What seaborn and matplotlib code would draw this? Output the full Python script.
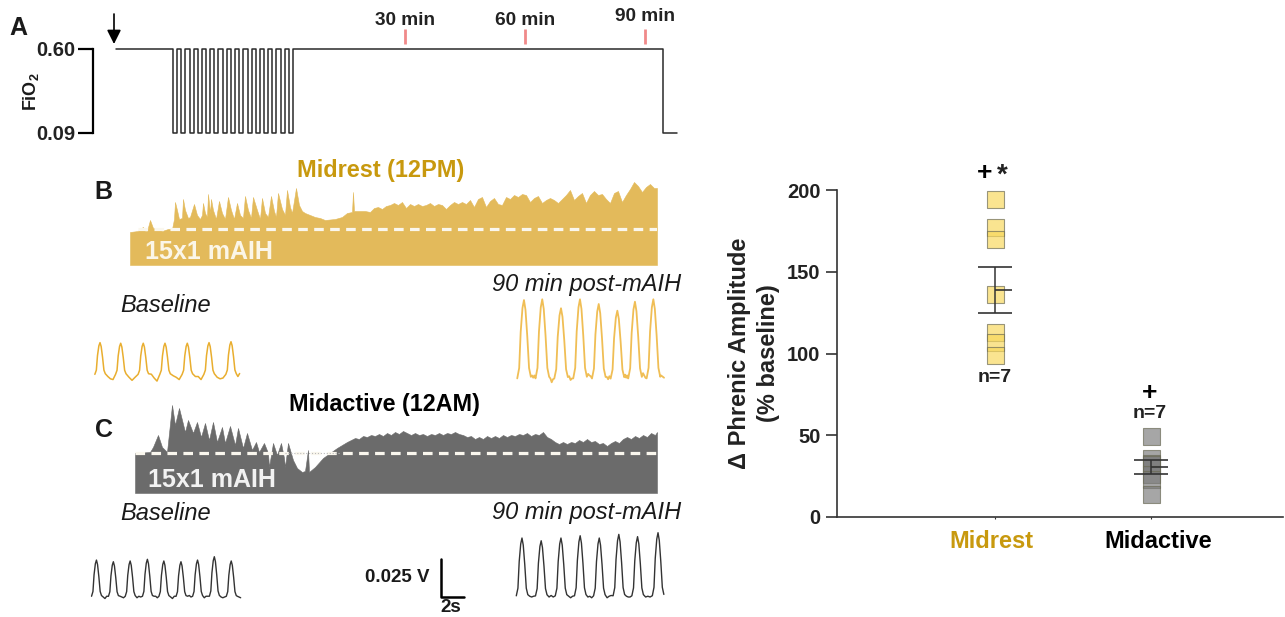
import matplotlib
matplotlib.use("Agg")
import matplotlib.pyplot as plt
from matplotlib.transforms import ScaledTranslation
import seaborn as sns
import pandas as pd

sns.set_theme(style="white")
plt.rcParams["font.family"] = ["Liberation Sans", "DejaVu Sans"]
plt.rcParams["mathtext.fontset"] = "custom"
plt.rcParams["mathtext.bf"] = "Liberation Sans:bold"

W, H = 1285, 617
GOLD = "#C8990E"
ENV_GOLD = "#E3BA5B"
ENV_GRAY = "#6B6B6B"

# --------------------------------------------------
# Data
# --------------------------------------------------

# A: protocol, minutes from the first hypoxic episode
hypoxia_onsets = [0, 2.07, 4.14, 6.21, 8.28, 10.35, 12.42, 14.49, 16.56, 18.63, 20.7, 22.77, 24.84, 26.91, 28.98]
fio2_high = 0.60
fio2_low = 0.09
protocol_start = -14.25
protocol_drop = 122.5
protocol_end = 126
mark_times = [58, 88, 118]
mark_labels = ["30 min", "60 min", "90 min"]

# B: integrated phrenic envelope, Midrest
env_b_x = [0, 8, 10, 13, 15, 17, 20, 23, 28, 32, 38, 42, 44, 45, 47, 49, 52, 53, 55, 58, 60, 64, 67, 70,
           72, 73, 75, 77, 78, 80, 81, 83, 86, 89, 92, 95, 98, 101, 104, 107, 110, 113, 115, 118, 121,
           123, 127, 130, 132, 135, 138, 141, 144, 146, 148, 152, 155, 157, 160, 162, 166, 169, 172,
           175, 180, 185, 190, 195, 205, 212, 217, 222, 223, 224, 235]
env_b_h = [33, 34, 36, 38, 34, 34, 45, 37, 36, 34, 36, 36, 46, 63, 55, 46, 47, 66, 55, 47, 48, 61, 50, 46,
           50, 62, 52, 48, 71, 52, 66, 55, 46, 64, 52, 46, 68, 55, 46, 62, 50, 47, 69, 55, 47,
           68, 55, 46, 67, 52, 48, 69, 54, 48, 72, 56, 50, 75, 58, 52, 77, 60, 54,
           52, 50, 48, 47, 45, 46, 48, 52, 53, 73, 54, 54]
env_b_x_late = list(range(240, 528, 4)) + [527]
env_b_h_late = [53, 57, 58, 56, 59, 60, 62, 60, 63, 57, 61, 59, 61, 59, 60, 62, 59, 61, 60, 56, 60, 63, 61, 63,
                61, 65, 58, 66, 68, 58, 64, 67, 61, 60, 68, 66, 70, 68, 71, 70, 63, 67, 69, 62, 65, 67, 65, 62,
                66, 70, 75, 65, 69, 72, 62, 70, 74, 70, 71, 66, 62, 72, 74, 63, 70, 76, 83, 79, 73, 78, 81, 77,
                77]
baseline_b = 35.5

# C: integrated phrenic envelope, Midactive
env_c_x = [0, 15, 18, 23, 27, 32, 37, 40, 44, 50, 53, 58, 62, 66, 70, 74, 78, 82, 87, 90, 95, 100, 103,
           108, 112, 117, 121, 124, 129, 133, 134, 138, 142, 146, 149, 150, 153, 158, 162, 167, 170,
           173, 174, 180, 188, 195, 202]
env_c_h = [40, 41, 46, 58, 46, 41, 88, 68, 85, 61, 73, 60, 71, 56, 70, 53, 71, 51, 66, 50, 67, 48, 65,
           45, 60, 43, 51, 41, 50, 40, 26, 50, 38, 50, 35, 26, 50, 33, 25, 21, 22,
           43, 21, 26, 35, 40, 45]
env_c_x_late = list(range(212, 524, 4)) + [522]
env_c_h_late = [51, 53, 55, 54, 57, 56, 58, 57, 59, 57, 60, 58, 61, 59, 62, 60, 58, 60, 58, 59, 57, 59, 58, 60,
                58, 60, 59, 61, 59, 58, 56, 57, 54, 56, 54, 57, 55, 57, 55, 58, 56, 58, 57, 59, 58, 60, 57, 59,
                58, 61, 56, 54, 51, 49, 51, 49, 51, 50, 53, 51, 54, 51, 52, 49, 50, 47, 50, 52, 50, 54, 56, 54,
                57, 55, 58, 56, 60, 58, 61]
baseline_c = 40

# Peak times (s) and peak amplitudes (mV) of the raw traces
peak_t_b_base = [0.61, 2.41, 4.37, 6.26, 8.20, 10.09, 12.00]
peak_v_b_base = [21.3, 20.9, 20.9, 20.9, 20.9, 21.3, 21.9]
gaps_b_base = [[-1.0, -2.5, -3.0], [-1.5, -3.5, -1.5], [0.5, -2.0, -4.0], [-0.5, -1.5, -3.0],
               [-1.0, -1.0, -3.0], [-1.5, -2.5, -2.0]]
tail_t_b_base = [12.6, 12.75]
tail_v_b_base = [-1.0, 1.0]
peak_t_b_post = [0.78, 2.37, 4.00, 5.65, 7.28, 8.90, 10.43, 12.03]
peak_v_b_post = [52.6, 53.1, 47.2, 53.1, 50.0, 45.6, 51.5, 53.1]
gaps_b_post = [[3.0, 1.5, 3.0], [1.0, -1.5, 0.5], [2.5, 0.0, 1.0], [4.0, 3.0, 2.5],
               [2.0, 0.5, 2.5], [3.5, 1.5, 3.0], [4.5, 3.0, 1.5]]
tail_t_b_post = [12.7, 12.96]
tail_v_b_post = [3.0, 1.5]
peak_t_c_base = [0.30, 1.77, 3.23, 4.73, 6.16, 7.65, 9.09, 10.55, 12.02]
peak_v_c_base = [24.3, 23.2, 23.7, 24.8, 23.7, 23.2, 24.3, 26.5, 23.7]
gaps_c_base = [[0.0, -1.0, 0.5], [0.5, 0.0, -0.5], [-0.5, 0.5, 0.0], [0.5, 0.5, -0.5], [0.0, -1.0, 0.5],
               [0.5, 1.0, 0.0], [-0.5, 0.5, 0.5], [0.0, -0.5, 0.0]]
tail_t_c_base = [12.55, 12.84]
tail_v_c_base = [0.5, -0.5]
peak_t_c_post = [0.52, 2.19, 3.91, 5.58, 7.24, 8.94, 10.57, 12.35]
peak_v_c_post = [38.8, 37.0, 38.8, 40.3, 38.8, 41.2, 39.7, 42.3]
gaps_c_post = [[0.5, 0.0, 0.5], [0.0, 1.0, 0.0], [0.5, -0.5, 0.5], [0.0, 0.5, -0.5], [-0.5, 0.5, 1.0],
               [0.5, 0.0, 0.0], [0.0, 0.5, 0.0]]

# Burst outline shared by the raw traces: seconds from peak, fraction of peak
burst_t = [-0.45, -0.32, -0.22, -0.10, 0.0, 0.10, 0.22, 0.34, 0.46]
burst_f = [0.02, 0.15, 0.60, 0.90, 1.0, 0.88, 0.55, 0.15, 0.04]

# Right panel: change in phrenic amplitude
groups = ["Midrest", "Midactive"]
midrest_vals = [194, 177, 170, 136, 113, 107, 99]
midactive_vals = [49, 36, 33, 32, 26, 23, 13.5]
means = [138.8, 30.4]
sems = [14.0, 4.2]


def px_axes(fig, left, right, top, bottom):
    ax = fig.add_axes([left / W, 1 - bottom / H, (right - left) / W, (bottom - top) / H])
    ax.patch.set_alpha(0)
    return ax


def draw_envelope(ax, xs, hs, base, color, dash_start, dash_end):
    ax.fill_between(xs, 0, hs, color=color, linewidth=0.4)
    ax.plot([dash_start, dash_end], [base, base], color="#FAF7EE", lw=2.3,
            dashes=(3, 2), dash_capstyle="butt")
    ax.set_xlim(xs[0], xs[-1])
    ax.set_ylim(0, 105)
    ax.axis("off")


def draw_trace(ax, peak_t, peak_v, gaps, tail_t, tail_v, widen, color, lw):
    xs, ys = [], []
    for i, (pt, pv) in enumerate(zip(peak_t, peak_v)):
        xs += [pt + b * widen for b in burst_t]
        ys += [pv * b for b in burst_f]
        if i < len(gaps):
            start = pt + burst_t[-1] * widen
            stop = peak_t[i + 1] + burst_t[0] * widen
            for k, g in enumerate(gaps[i]):
                xs.append(start + (stop - start) * (k + 1) / 4)
                ys.append(g)
    xs += tail_t
    ys += tail_v
    sns.lineplot(x=xs, y=ys, ax=ax, color=color, lw=lw, sort=False, estimator=None)
    for line in ax.get_lines():
        line.set_clip_on(False)
    ax.axis("off")


fig = plt.figure(figsize=(W / 100, H / 100), dpi=100)

# --------------------------------------------------
# A. Protocol
# --------------------------------------------------
ax_a = px_axes(fig, 93, 680, 49, 133)
t_a = [protocol_start]
f_a = [fio2_high]
for t in hypoxia_onsets:
    t_a += [t, t, t + 1, t + 1]
    f_a += [fio2_high, fio2_low, fio2_low, fio2_high]
t_a += [protocol_drop, protocol_drop, protocol_end]
f_a += [fio2_high, fio2_low, fio2_low]
sns.lineplot(x=t_a, y=f_a, ax=ax_a, color="#2A2A2A", lw=1.1, sort=False, estimator=None)
ax_a.vlines(mark_times, 0.63, 0.72, color="#F08A8A", lw=2, clip_on=False)
ax_a.set_xlim(-20, 126.75)
ax_a.set_ylim(fio2_low, fio2_high)
ax_a.set_yticks([fio2_low, fio2_high])
ax_a.set_yticklabels(["0.09", "0.60"], fontsize=14.5, fontweight="bold", color="#222222")
ax_a.set_xticks([])
sns.despine(ax=ax_a, bottom=True)
ax_a.spines["left"].set_color("black")
ax_a.spines["left"].set_linewidth(1.6)
ax_a.tick_params(axis="y", left=True, length=11, width=1.6, color="black", pad=2)
for line in ax_a.get_lines():
    line.set_clip_on(False)
for t, label in zip(mark_times, mark_labels):
    ax_a.text(t, 0.775 if t < 118 else 0.80, label, ha="center", va="center", fontsize=13.7,
              fontweight="bold", color="#222222")

# --------------------------------------------------
# B and C. Envelopes and raw traces
# --------------------------------------------------
ax_b = px_axes(fig, 130, 657, 160, 265)
draw_envelope(ax_b, env_b_x + env_b_x_late, env_b_h + env_b_h_late, baseline_b, ENV_GOLD, 8, 527)

ax_c = px_axes(fig, 135, 657, 388, 493)
draw_envelope(ax_c, env_c_x + env_c_x_late, env_c_h + env_c_h_late, baseline_c, ENV_GRAY, 0, 522)
ax_c.plot([150, 205], [baseline_c, baseline_c], color="#BBBBBB", lw=0.8, ls=":")

# 11.5 px per second and 1.52 px per mV for every raw trace
for left, base, peak_t, peak_v, gaps, tail_t, tail_v, widen, color, lw in [
    (93, 375, peak_t_b_base, peak_v_b_base, gaps_b_base, tail_t_b_base, tail_v_b_base, 1.0, "#E9AE2F", 1.1),
    (515, 380, peak_t_b_post, peak_v_b_post, gaps_b_post, tail_t_b_post, tail_v_b_post, 1.3, "#F0BE55", 1.3),
    (93, 597, peak_t_c_base, peak_v_c_base, gaps_c_base, tail_t_c_base, tail_v_c_base, 0.95, "#333333", 1.0),
    (516, 597, peak_t_c_post, peak_v_c_post, gaps_c_post, [], [], 1.1, "#333333", 1.0),
]:
    ax = px_axes(fig, left, left + 11.5 * 13, base - 1.52 * 60, base)
    ax.set_xlim(0, 13)
    ax.set_ylim(0, 60)
    draw_trace(ax, peak_t, peak_v, gaps, tail_t, tail_v, widen, color, lw)

# Scale bar: 25 mV and 2 s
ax_scale = px_axes(fig, 441, 441 + 11.5 * 2, 596.5 - 38, 596.5)
sns.lineplot(x=[0, 0, 2], y=[25, 0, 0], ax=ax_scale, color="black", lw=1.8, sort=False, estimator=None)
ax_scale.set_xlim(0, 2)
ax_scale.set_ylim(0, 25)
ax_scale.axis("off")
for line in ax_scale.get_lines():
    line.set_clip_on(False)

# --------------------------------------------------
# Right panel
# --------------------------------------------------
ax_r = px_axes(fig, 837, 1283, 190, 517)
df = pd.DataFrame({
    "group": [groups[0]] * len(midrest_vals) + [groups[1]] * len(midactive_vals),
    "value": midrest_vals + midactive_vals,
})
sns.scatterplot(data=df, x="group", y="value", hue="group", ax=ax_r, marker="s", s=150,
                palette=["#F8D85C", "#7C7C7C"], alpha=0.68, edgecolor="#6A6A55", linewidth=0.8,
                legend=False, zorder=2)
ax_r.errorbar([0, 1], means, yerr=sems, fmt="none", ecolor="#333333", elinewidth=1.1,
              capsize=12, capthick=1.2, zorder=3)
ax_r.hlines(means, [0, 1], [0.106, 1.106], color="#333333", lw=1.2, zorder=3)
ax_r.set_xlim(-1.013, 1.846)
ax_r.set_ylim(0, 200)
ax_r.set_yticks([0, 50, 100, 150, 200])
ax_r.set_xlabel("")
ax_r.set_ylabel("\u0394 Phrenic Amplitude\n(% baseline)", fontsize=17, fontweight="bold",
                labelpad=5, color="#222222", linespacing=1.3)
sns.despine(ax=ax_r)
for side in ["left", "bottom"]:
    ax_r.spines[side].set_color("#333333")
    ax_r.spines[side].set_linewidth(1.2)
ax_r.tick_params(axis="y", left=True, length=8, width=1.2, color="#333333", labelsize=14.5, pad=4)
ax_r.tick_params(axis="x", bottom=True, length=1.5, width=0.8, color="#333333", labelsize=17, pad=8)
for label in ax_r.get_yticklabels():
    label.set_fontweight("bold")
    label.set_color("#222222")
for label, color, shift in zip(ax_r.get_xticklabels(), [GOLD, "black"], [-0.04, 0.07]):
    label.set_fontweight("bold")
    label.set_color(color)
    label.set_transform(label.get_transform() + ScaledTranslation(shift, 0, fig.dpi_scale_trans))
ax_r.text(-0.065, 210.5, "+", ha="center", va="center", fontsize=19, fontweight="bold", color="black")
ax_r.text(0.045, 209, "*", ha="center", va="center", fontsize=20, fontweight="bold", color="#222222")
ax_r.text(0, 85.5, "n=7", ha="center", va="center", fontsize=14, fontweight="bold", color="#222222")
ax_r.text(0.99, 76, "+", ha="center", va="center", fontsize=19, fontweight="bold", color="black")
ax_r.text(0.99, 63, "n=7", ha="center", va="center", fontsize=14, fontweight="bold", color="#222222")

# --------------------------------------------------
# Labels placed on the page
# --------------------------------------------------
page = fig.add_axes([0, 0, 1, 1], zorder=10)
page.set_xlim(0, W)
page.set_ylim(H, 0)
page.axis("off")
page.patch.set_alpha(0)


def note(x, y, text, size, color="#1A1A1A", weight="bold", style="normal", rotation=0, ha="center"):
    page.text(x, y, text, fontsize=size, color=color, fontweight=weight, fontstyle=style,
              rotation=rotation, ha=ha, va="center")


note(18, 28, "A", 18)
note(103, 192, "B", 18)
note(104, 430, "C", 18)
note(31, 92, r"$\mathbf{FiO_2}$", 13, rotation=90)
note(381, 170, "Midrest (12PM)", 16.9, color=GOLD)
note(384, 404, "Midactive (12AM)", 16.8, color="black")
note(145, 252, "15x1 mAIH", 18, color="#FBF6E8", ha="left")
note(148, 480, "15x1 mAIH", 18, color="#F2F2F2", ha="left")
note(166, 306, "Baseline", 17, weight="normal", style="italic")
note(587, 284, "90 min post-mAIH", 17, weight="normal", style="italic")
note(166, 514, "Baseline", 17, weight="normal", style="italic")
note(587, 513, "90 min post-mAIH", 17, weight="normal", style="italic")
note(397, 577, "0.025 V", 13.5)
note(451, 608, "2s", 13.5)
page.annotate("", xy=(114, 44), xytext=(114, 14),
              arrowprops=dict(arrowstyle="-|>,head_width=0.35,head_length=0.7", color="black", lw=1.2,
                              shrinkA=0, shrinkB=0))

fig.savefig("out.png", dpi=100)
plt.close(fig)
